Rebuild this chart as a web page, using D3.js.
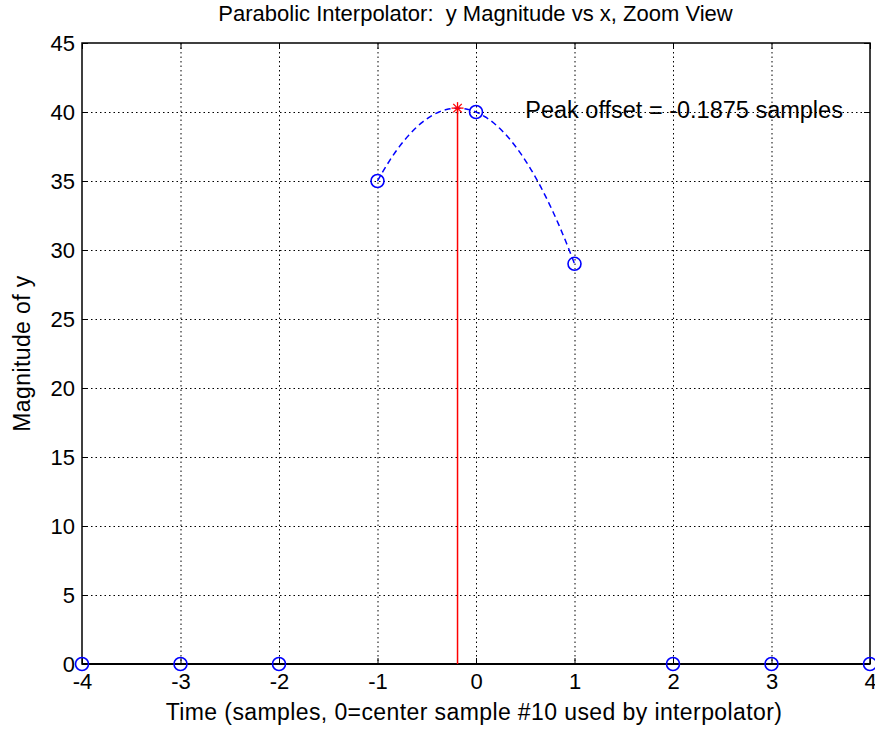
<!DOCTYPE html>
<html>
<head>
<meta charset="utf-8">
<script src="https://cdn.jsdelivr.net/npm/d3@7"></script>
<style>
  html, body { margin: 0; padding: 0; background: #fff; }
  text { font-family: "Liberation Sans", Arial, Helvetica, sans-serif; fill: #000; white-space: pre; }
</style>
</head>
<body>
<svg id="chart" width="875" height="732"></svg>
<script>
// Sample offsets around the centre sample and their magnitudes
const sampleX = [-4, -3, -2, -1, 0, 1, 2, 3, 4];
const sampleY = [0, 0, 0, 35, 40, 29, 0, 0, 0];
const xTicks = [-4, -3, -2, -1, 0, 1, 2, 3, 4];
const yTicks = [0, 5, 10, 15, 20, 25, 30, 35, 40, 45];
const titleText = "Parabolic Interpolator:  y Magnitude vs x, Zoom View";
const xLabelText = "Time (samples, 0=center sample #10 used by interpolator)";
const yLabelText = "Magnitude of y";

// Parabola through the three samples around the centre
const ym1 = sampleY[sampleX.indexOf(-1)], y0 = sampleY[sampleX.indexOf(0)], yp1 = sampleY[sampleX.indexOf(1)];
const pa = (ym1 + yp1 - 2 * y0) / 2;
const pb = (yp1 - ym1) / 2;
const pc = y0;
const peakX = -pb / (2 * pa);
const peakY = pa * peakX * peakX + pb * peakX + pc;
const parabola = d3.range(0, 101).map(i => {
  const t = -1 + i * 0.02;
  return [t, pa * t * t + pb * t + pc];
});
const peakLabel = "Peak offset = " + peakX.toFixed(4) + " samples";

const svg = d3.select("#chart");
const pLeft = 82, pRight = 870, pTop = 43, pBottom = 664;
const x = d3.scaleLinear().domain([-4, 4]).range([pLeft, pRight]);
const y = d3.scaleLinear().domain([0, 45]).range([pBottom, pTop]);
const plain = d => String(d);

// grid
const grid = svg.append("g").attr("stroke", "#000").attr("stroke-width", 1)
  .attr("stroke-dasharray", "1.5,3");
grid.selectAll("line.gx").data(xTicks.slice(1, -1)).join("line").attr("class", "gx")
  .attr("x1", d => x(d) + 0.5).attr("x2", d => x(d) + 0.5)
  .attr("y1", pTop).attr("y2", pBottom);
grid.selectAll("line.gy").data(yTicks.slice(1, -1)).join("line").attr("class", "gy")
  .attr("y1", d => Math.round(y(d)) + 0.5).attr("y2", d => Math.round(y(d)) + 0.5)
  .attr("x1", pLeft).attr("x2", pRight);

// axes with inward ticks
const xAxis = d3.axisBottom(x).tickValues(xTicks).tickSize(-6).tickPadding(9).tickFormat(plain);
const yAxis = d3.axisLeft(y).tickValues(yTicks).tickSize(-6).tickPadding(7).tickFormat(plain);
const gx = svg.append("g").attr("transform", `translate(0,${pBottom})`).call(xAxis);
const gy = svg.append("g").attr("transform", `translate(${pLeft},0)`).call(yAxis);
[gx, gy].forEach(g => {
  g.select(".domain").remove();
  g.selectAll(".tick line").attr("stroke", "#000");
  g.selectAll(".tick text").style("font-size", "22px").attr("fill", "#000");
});
// top/right ticks
const gx2 = svg.append("g").attr("transform", `translate(0,${pTop})`)
  .call(d3.axisTop(x).tickValues(xTicks).tickSize(-6).tickFormat(""));
const gy2 = svg.append("g").attr("transform", `translate(${pRight},0)`)
  .call(d3.axisRight(y).tickValues(yTicks).tickSize(-6).tickFormat(""));
[gx2, gy2].forEach(g => { g.select(".domain").remove(); g.selectAll(".tick line").attr("stroke", "#000"); });

// box
svg.append("rect").attr("x", pLeft).attr("y", pTop)
  .attr("width", pRight - pLeft).attr("height", pBottom - pTop)
  .attr("fill", "none").attr("stroke", "#000").attr("stroke-width", 1.5);

// stem baseline
svg.append("line").attr("x1", x(-4)).attr("x2", x(4))
  .attr("y1", y(0)).attr("y2", y(0)).attr("stroke", "#000").attr("stroke-width", 2);

// interpolating parabola
svg.append("path").datum(parabola)
  .attr("d", d3.line().x(d => x(d[0])).y(d => y(d[1])))
  .attr("fill", "none").attr("stroke", "#0000ff").attr("stroke-width", 1.5)
  .attr("stroke-dasharray", "6,4");

// red peak stem
svg.append("line").attr("x1", x(peakX)).attr("x2", x(peakX))
  .attr("y1", y(0)).attr("y2", y(peakY)).attr("stroke", "#ff0000").attr("stroke-width", 1.5);
const star = svg.append("g").attr("transform", `translate(${x(peakX)},${y(peakY)})`)
  .attr("stroke", "#ff0000").attr("stroke-width", 1.3);
[0, 45, 90, 135].forEach(a => {
  const r = 6, rad = a * Math.PI / 180;
  star.append("line").attr("x1", -r * Math.cos(rad)).attr("y1", -r * Math.sin(rad))
    .attr("x2", r * Math.cos(rad)).attr("y2", r * Math.sin(rad));
});

// sample markers
svg.append("g").selectAll("circle").data(sampleX.map((d, i) => [d, sampleY[i]])).join("circle")
  .attr("cx", d => x(d[0])).attr("cy", d => y(d[1])).attr("r", 6.5)
  .attr("fill", "none").attr("stroke", "#0000ff").attr("stroke-width", 1.6);

// annotation
svg.append("text").attr("x", x(0.5)).attr("y", y(40)).attr("dy", "0.25em")
  .style("font-size", "23.5px").text(peakLabel);

// titles
svg.append("text").attr("x", (pLeft + pRight) / 2 - 0.5).attr("y", 21).attr("text-anchor", "middle")
  .style("font-size", "22px").text(titleText);
svg.append("text").attr("x", (pLeft + pRight) / 2 - 2).attr("y", 720).attr("text-anchor", "middle")
  .style("font-size", "23px").style("letter-spacing", "0.4px").text(xLabelText);
svg.append("text").attr("transform", `translate(30,${(pTop + pBottom) / 2}) rotate(-90)`)
  .attr("text-anchor", "middle").style("font-size", "23px").style("letter-spacing", "0.4px").text(yLabelText);
</script>
</body>
</html>
